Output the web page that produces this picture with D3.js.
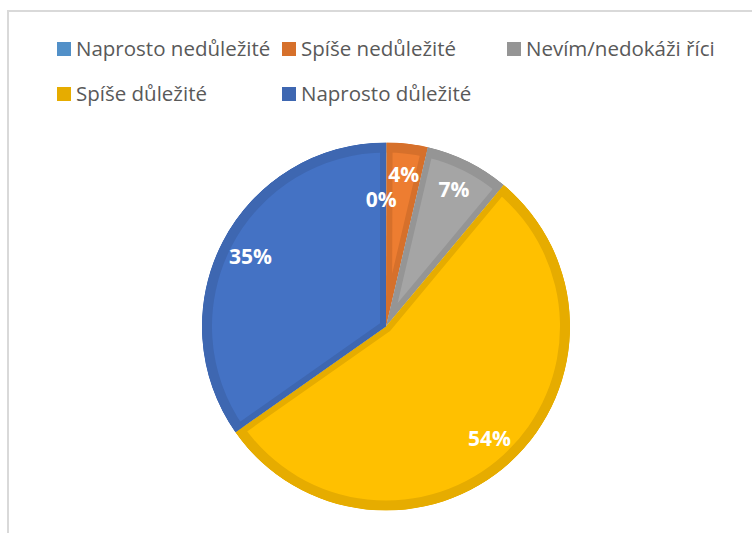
<!DOCTYPE html>
<html>
<head>
<meta charset="utf-8">
<script src="https://cdn.jsdelivr.net/npm/d3@7"></script>
<style>
  body { margin: 0; background: #fff; }
  svg { display: block; }
  .legend text { font-family: "Open Sans", sans-serif; font-size: 20.5px; fill: #595959; }
  .lbl { font-family: "Open Sans", sans-serif; font-size: 21px; font-weight: bold; fill: #fff; }
</style>
</head>
<body>
<script>
// data
var categories = ['Naprosto nedůležité', 'Spíše nedůležité', 'Nevím/nedokáži říci', 'Spíše důležité', 'Naprosto důležité']
var values = [0.05, 3.6, 7.4, 54.2, 34.75]
var fills = ['#5B9BD5', '#ED7D31', '#A5A5A5', '#FFC000', '#4472C4']
var edges = ['#5290C8', '#D6702B', '#959595', '#E6AC00', '#3E67B1']

var width = 752, height = 533

var svg = d3.select('body').append('svg').attr('width', width).attr('height', height)

// chart area border (runs off the right / bottom of the picture)
svg.append('rect').attr('x', 8).attr('y', 11).attr('width', 900).attr('height', 700)
  .attr('fill', '#fff').attr('stroke', '#d9d9d9').attr('stroke-width', 2)

// legend, 3 columns
var legend = svg.append('g').attr('class', 'legend')
var item = legend.selectAll('g').data(categories).enter().append('g')
  .attr('transform', function(d, i) { return 'translate(' + (57 + (i % 3) * 225) + ',' + (42 + Math.floor(i / 3) * 45) + ')' })
item.append('rect').attr('width', 14).attr('height', 14).attr('fill', function(d, i) { return edges[i] })
item.append('text').attr('x', 19).attr('y', 14).text(function(d) { return d })

// pie
var cx = 386, cy = 326.5, R = 184
var g = svg.append('g').attr('transform', 'translate(' + cx + ',' + cy + ')')

var pie = d3.pie().sort(null).value(function(d) { return d })
var arcs = pie(values)

var arc = d3.arc().innerRadius(0).outerRadius(R)
var rim = d3.arc().innerRadius(R - 10).outerRadius(R)

var defs = svg.append('defs')
defs.selectAll('clipPath').data(arcs).enter().append('clipPath')
  .attr('id', function(d, i) { return 'clip' + i })
  .append('path').attr('d', arc)

var slice = g.selectAll('.slice').data(arcs).enter().append('g')
  .attr('class', 'slice')
  .attr('clip-path', function(d, i) { return 'url(#clip' + i + ')' })

// slice body with an inner darker edge
slice.append('path').attr('d', arc)
  .attr('fill', function(d, i) { return fills[i] })
  .attr('stroke', function(d, i) { return edges[i] })
  .attr('stroke-width', 12)
  .attr('stroke-linejoin', 'miter')
slice.append('path').attr('d', rim)
  .attr('fill', function(d, i) { return edges[i] })

// percent labels
var labelArc = d3.arc().innerRadius(R * 0.83).outerRadius(R * 0.83)
var smallArc = d3.arc().innerRadius(R * 0.69).outerRadius(R * 0.69)

g.selectAll('.lbl').data(arcs).enter().append('text')
  .attr('class', 'lbl')
  .attr('transform', function(d) {
    var c = d.data < 1 ? smallArc.centroid(d) : labelArc.centroid(d)
    if (d.data < 1) c[0] -= 5
    return 'translate(' + c + ')'
  })
  .attr('text-anchor', 'middle')
  .attr('dy', '0.36em')
  .text(function(d) { return Math.round(d.data) + '%' })
</script>
</body>
</html>
